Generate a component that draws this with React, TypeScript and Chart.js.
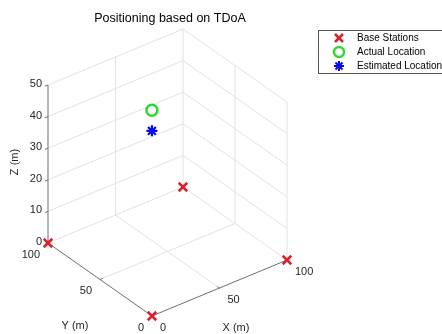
import React, { useEffect, useRef } from 'react';
import { Chart, registerables } from 'chart.js';

Chart.register(...registerables);

const W = 442;
const H = 334;
const FONT = "'Liberation Sans', Arial, Helvetica, sans-serif";

const chartTitle = 'Positioning based on TDoA';
const xLabel = 'X (m)';
const yLabel = 'Y (m)';
const zLabel = 'Z (m)';
const xTicks = [0, 50, 100];
const yTicks = [0, 50, 100];
const zTicks = [0, 10, 20, 30, 40, 50];
const baseX = [0, 100, 0, 100];
const baseY = [0, 0, 100, 100];
const baseZ = [0, 0, 0, 0];
const actualLoc = [40, 52, 46];
const estimatedLoc = [40, 52, 39.5];
const legendLabels = ['Base Stations', 'Actual Location', 'Estimated Location'];

const RED = '#d9222b';
const GREEN = '#2fd82f';
const BLUE = '#0a0ae6';

// affine camera for the 3-D view
const VIEW = { ox: 152, oy: 316, xx: 1.35, xy: -0.56, yx: -1.04, yy: -0.73, zy: -3.16 };
function proj(x: number, y: number, z: number) {
  return { x: VIEW.ox + VIEW.xx * x + VIEW.yx * y, y: VIEW.oy + VIEW.xy * x + VIEW.yy * y + VIEW.zy * z };
}

type P = { x: number | null; y: number | null };
function seg(list: P[], a: number[], b: number[]) {
  const p = proj(a[0], a[1], a[2]);
  const q = proj(b[0], b[1], b[2]);
  list.push({ x: p.x, y: p.y }, { x: q.x, y: q.y }, { x: null, y: null });
}

const xMax = xTicks[xTicks.length - 1];
const yMax = yTicks[yTicks.length - 1];
const zMax = zTicks[zTicks.length - 1];

function buildGrid(): P[] {
  const g: P[] = [];
  zTicks.forEach((z) => {
    seg(g, [0, yMax, z], [xMax, yMax, z]);
    seg(g, [xMax, 0, z], [xMax, yMax, z]);
  });
  xTicks.filter((x) => x > 0).forEach((x) => seg(g, [x, yMax, 0], [x, yMax, zMax]));
  yTicks.filter((y) => y < yMax).forEach((y) => seg(g, [xMax, y, 0], [xMax, y, zMax]));
  xTicks.filter((x) => x > 0 && x < xMax).forEach((x) => seg(g, [x, 0, 0], [x, yMax, 0]));
  yTicks.filter((y) => y > 0 && y < yMax).forEach((y) => seg(g, [0, y, 0], [xMax, y, 0]));
  return g;
}

function buildAxes(): P[] {
  const a: P[] = [];
  seg(a, [0, 0, 0], [xMax, 0, 0]);
  seg(a, [0, 0, 0], [0, yMax, 0]);
  seg(a, [0, yMax, 0], [0, yMax, zMax]);
  zTicks.forEach((z) => seg(a, [0, yMax, z], [-2.2, yMax, z]));
  xTicks.forEach((x) => seg(a, [x, 0, 0], [x, 2, 0]));
  yTicks.forEach((y) => seg(a, [0, y, 0], [2, y, 0]));
  return a;
}

const textPlugin = {
  id: 'text3d',
  afterDraw(chart: any) {
    const ctx = chart.ctx as CanvasRenderingContext2D;
    const sx = chart.scales.x;
    const sy = chart.scales.y;
    const pix = (x: number, y: number, z: number) => {
      const p = proj(x, y, z);
      return { x: sx.getPixelForValue(p.x), y: sy.getPixelForValue(p.y) };
    };
    ctx.save();
    ctx.fillStyle = '#262626';
    ctx.font = `11px ${FONT}`;
    ctx.textBaseline = 'middle';

    ctx.textAlign = 'right';
    zTicks.forEach((z) => {
      const p = pix(0, yMax, z);
      ctx.fillText(String(z), p.x - 6, p.y - 1);
    });
    yTicks.forEach((y) => {
      const p = pix(0, y, 0);
      ctx.fillText(String(y), p.x - 8, p.y + 11.5);
    });
    ctx.textAlign = 'left';
    xTicks.forEach((x) => {
      const p = pix(x, 0, 0);
      ctx.fillText(String(x), p.x + 8, p.y + 12);
    });

    ctx.textAlign = 'center';
    ctx.fillText(xLabel, 236, 328);
    ctx.fillText(yLabel, 75, 326);
    ctx.save();
    ctx.translate(15, 162);
    ctx.rotate(-Math.PI / 2);
    ctx.fillText(zLabel, 0, 0);
    ctx.restore();

    ctx.fillStyle = '#000';
    ctx.font = `12.5px ${FONT}`;
    ctx.fillText(chartTitle, 170, 19);

    // legend
    ctx.fillStyle = '#fff';
    ctx.fillRect(318.5, 30.5, 140, 43);
    ctx.strokeStyle = '#555';
    ctx.lineWidth = 1;
    ctx.strokeRect(318.5, 30.5, 140, 43);
    const rows = [38, 52, 66];
    const mx = 339;
    ctx.strokeStyle = RED;
    ctx.lineWidth = 2.5;
    ctx.beginPath();
    ctx.moveTo(mx - 4, rows[0] - 4);
    ctx.lineTo(mx + 4, rows[0] + 4);
    ctx.moveTo(mx + 4, rows[0] - 4);
    ctx.lineTo(mx - 4, rows[0] + 4);
    ctx.stroke();
    ctx.strokeStyle = GREEN;
    ctx.beginPath();
    ctx.arc(mx, rows[1], 5, 0, Math.PI * 2);
    ctx.stroke();
    ctx.strokeStyle = BLUE;
    ctx.lineWidth = 2;
    ctx.beginPath();
    for (let k = 0; k < 4; k++) {
      const a = (k * Math.PI) / 4;
      ctx.moveTo(mx - 5 * Math.cos(a), rows[2] - 5 * Math.sin(a));
      ctx.lineTo(mx + 5 * Math.cos(a), rows[2] + 5 * Math.sin(a));
    }
    ctx.stroke();

    ctx.fillStyle = '#000';
    ctx.font = `10px ${FONT}`;
    ctx.textAlign = 'left';
    legendLabels.forEach((t, i) => ctx.fillText(t, 357, rows[i]));
    ctx.restore();
  },
};

export default function App() {
  const ref = useRef<HTMLCanvasElement | null>(null);
  useEffect(() => {
    if (!ref.current) return;
    const basePts = baseX.map((x, i) => proj(x, baseY[i], baseZ[i]));
    const chart = new Chart(ref.current, {
      type: 'scatter',
      data: {
        datasets: [
          {
            label: legendLabels[0],
            data: basePts,
            pointStyle: 'crossRot',
            pointRadius: 6,
            borderColor: RED,
            borderWidth: 2.5,
            showLine: false,
          },
          {
            label: legendLabels[1],
            data: [proj(actualLoc[0], actualLoc[1], actualLoc[2])],
            pointStyle: 'circle',
            pointRadius: 5.5,
            borderColor: GREEN,
            backgroundColor: 'rgba(0,0,0,0)',
            borderWidth: 2.5,
            showLine: false,
          },
          {
            label: legendLabels[2],
            data: [proj(estimatedLoc[0], estimatedLoc[1], estimatedLoc[2])],
            pointStyle: 'star',
            pointRadius: 5.5,
            borderColor: BLUE,
            borderWidth: 2.2,
            showLine: false,
          },
          {
            label: 'axes',
            data: buildAxes() as any,
            showLine: true,
            spanGaps: false,
            pointRadius: 0,
            borderColor: '#6e6e6e',
            borderWidth: 1,
          },
          {
            label: 'grid',
            data: buildGrid() as any,
            showLine: true,
            spanGaps: false,
            pointRadius: 0,
            borderColor: '#e2e2e2',
            borderWidth: 1,
          },
        ],
      },
      options: {
        responsive: false,
        animation: false,
        events: [],
        layout: { padding: 0, autoPadding: false },
        scales: {
          x: { type: 'linear', min: 0, max: W, display: false },
          y: { type: 'linear', min: 0, max: H, reverse: true, display: false },
        },
        plugins: { legend: { display: false }, title: { display: false }, tooltip: { enabled: false } },
      },
      plugins: [textPlugin],
    });
    return () => chart.destroy();
  }, []);
  return (
    <div style={{ position: 'absolute', left: 0, top: 0, width: W, height: H, background: '#fff' }}>
      <canvas ref={ref} width={W} height={H} />
    </div>
  );
}
